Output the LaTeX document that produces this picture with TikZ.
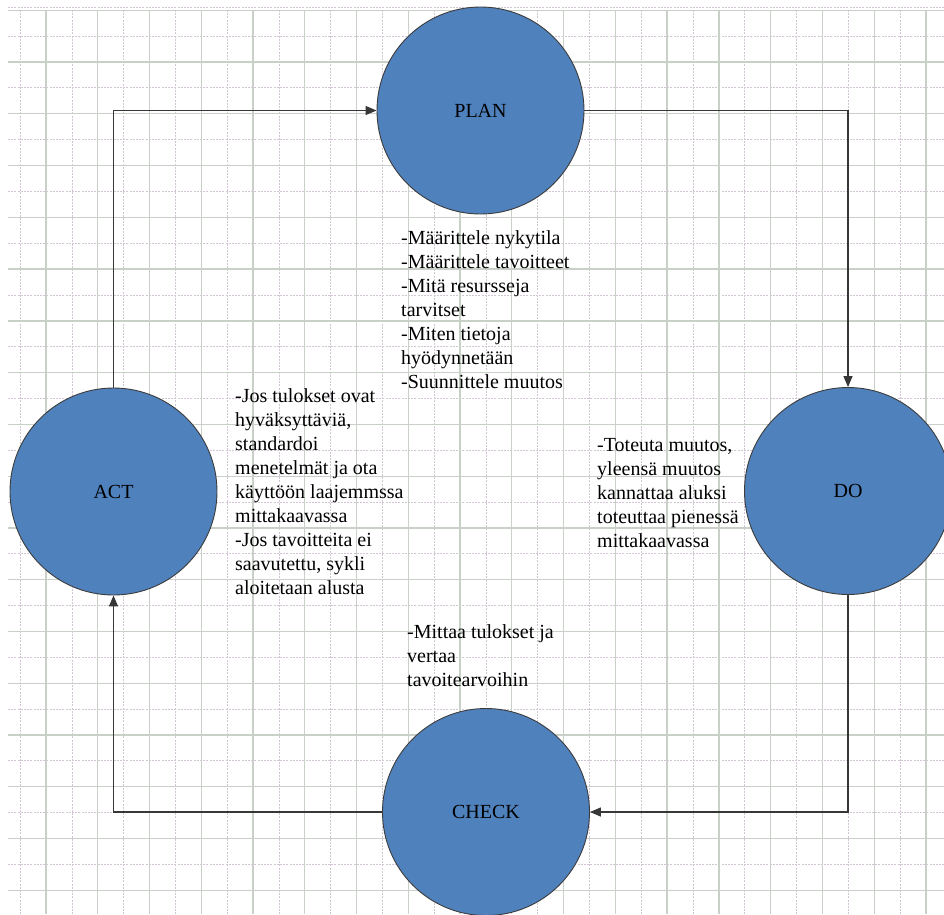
\documentclass[tikz,border=0pt]{standalone}
\usepackage{fontspec}
\setmainfont{Liberation Serif}
\usetikzlibrary{arrows.meta}
\definecolor{circfill}{RGB}{79,129,189}
\definecolor{circline}{RGB}{60,60,60}
\definecolor{connline}{RGB}{55,55,55}
\definecolor{gridmajor}{RGB}{200,208,200}
\definecolor{gridminor}{RGB}{210,198,212}
\tikzset{
  stage/.style={circle, minimum size=207pt, inner sep=0pt, fill=circfill, draw=circline, line width=0.9pt,
    font=\rmfamily\fontsize{20}{24}\selectfont},
  conn/.style={draw=connline, line width=1.3pt, -{Triangle[length=11pt,width=9pt]}},
  desc/.style={anchor=north west, inner sep=0pt, align=left, font=\rmfamily\fontsize{20}{24}\selectfont},
  gmajor/.style={draw=gridmajor, line width=1.3pt},
  gminor/.style={draw=gridminor, line width=1pt, dash pattern=on 2pt off 1.2pt}
}
\begin{document}
\begin{tikzpicture}[x=1pt,y=-1pt]
\useasboundingbox (0,0) rectangle (944,914);
\clip (0,0) rectangle (944,914);
\fill[white] (0,0) rectangle (944,914);
% grid
\foreach \i in {0,...,17} {
  \draw[gminor] ({20.3+51.76*\i},10) -- ({20.3+51.76*\i},914);
  \draw[gminor] (8,{36.2+51.76*\i}) -- (944,{36.2+51.76*\i});
}
\draw[gminor] (8,7) -- (944,7);
\foreach \i in {0,...,17} {
  \draw[gmajor] ({46+51.76*\i},10) -- ({46+51.76*\i},914);
  \draw[gmajor] (8,{10.3+51.76*\i}) -- (944,{10.3+51.76*\i});
}
% stages
\node[stage] (plan) at (480.5,110.5) {PLAN};
\node[stage] (act) at (113.5,491.5) {ACT};
\node[stage] (do) at (848,491) {DO};
\node[stage] (check) at (486,812) {CHECK};
% connectors
\draw[conn] (act.north) |- (plan.west);
\draw[conn] (plan.east) -| (do.north);
\draw[conn] (do.south) |- (check.east);
\draw[conn] (check.west) -| (act.south);
% descriptions
\node[desc] (plantext) at (401,230.5) {-Määrittele nykytila\\-Määrittele tavoitteet\\-Mitä resursseja\\tarvitset\\-Miten tietoja\\hyödynnetään\\-Suunnittele muutos};
\node[desc] (acttext) at (235,388) {-Jos tulokset ovat\\hyväksyttäviä,\\standardoi\\menetelmät ja ota\\käyttöön laajemmssa\\mittakaavassa\\-Jos tavoitteita ei\\saavutettu, sykli\\aloitetaan alusta};
\node[desc] (dotext) at (597,438.5) {-Toteuta muutos,\\yleensä muutos\\kannattaa aluksi\\toteuttaa pienessä\\mittakaavassa};
\node[desc] (checktext) at (407,624.5) {-Mittaa tulokset ja\\vertaa\\tavoitearvoihin};
\end{tikzpicture}
\end{document}
